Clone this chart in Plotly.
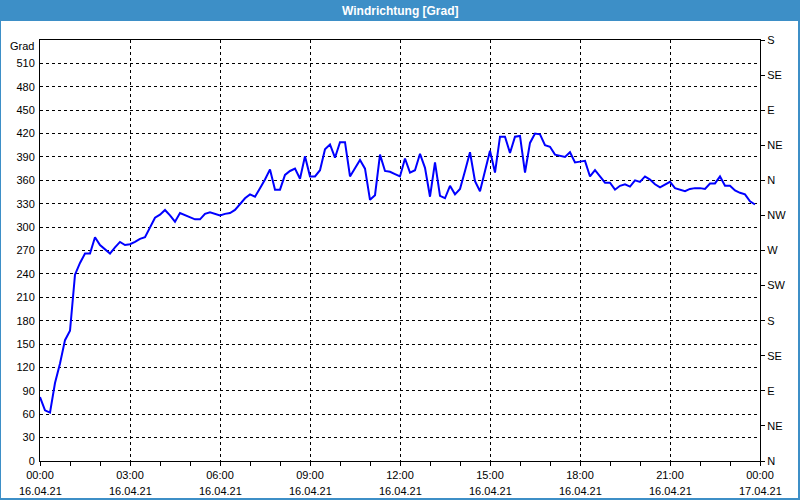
import plotly.graph_objects as go
import pandas as pd

# wind direction in degrees, one reading every 10 minutes, 16.04.21 00:00 .. 23:50
direction = [
    82, 65, 62, 100, 125, 155, 167, 239, 254, 266, 266, 287,
    277, 271, 266, 274, 281, 277, 278, 281, 285, 287, 300, 312,
    316, 322, 315, 307, 318, 315, 312, 310, 310, 317, 319, 317,
    315, 317, 318, 322, 330, 337, 342, 339, 350, 361, 374, 348,
    348, 367, 372, 375, 362, 391, 365, 365, 373, 400, 406, 389,
    409, 409, 365, 376, 386, 375, 335, 341, 393, 372, 371, 368,
    365, 388, 370, 373, 394, 376, 339, 383, 340, 337, 353, 342,
    349, 372, 396, 359, 346, 372, 398, 370, 416, 416, 395, 416,
    417, 370, 408, 420, 419, 405, 403, 393, 391, 390, 396, 383,
    384, 385, 365, 373, 365, 357, 357, 348, 353, 355, 352, 360,
    358, 365, 361, 355, 351, 355, 358, 350, 348, 346, 349, 350,
    350, 349, 356, 356, 365, 353, 353, 347, 344, 342, 333, 329,
]
times = pd.date_range("2021-04-16 00:00", periods=len(direction), freq="10min")

x_tick_times = pd.date_range("2021-04-16 00:00", "2021-04-17 00:00", freq="3h")
x_tick_hours = ["00:00", "03:00", "06:00", "09:00", "12:00", "15:00", "18:00", "21:00", "00:00"]
x_tick_dates = ["16.04.21"] * 8 + ["17.04.21"]

left_ticks = list(range(0, 511, 30))
right_ticks = list(range(0, 541, 45))
right_labels = ["N", "NE", "E", "SE", "S", "SW", "W", "NW", "N", "NE", "E", "SE", "S"]

FONT = "Liberation Sans"
BLUE = "#3d8fc7"

fig = go.Figure()
fig.add_trace(go.Scatter(x=times, y=direction, mode="lines",
                         line=dict(color="#0000ff", width=2), hoverinfo="skip",
                         showlegend=False))
fig.add_trace(go.Scatter(x=[times[0]], y=[0], yaxis="y2", mode="markers",
                         marker=dict(opacity=0), showlegend=False, hoverinfo="skip"))

W, H = 800, 500
L, R, T, B = 40, 40, 40, 39
pw, ph = W - L - R, H - T - B

def px_x(p):
    return (p - L) / pw

def px_y(p):
    return (H - B - p) / ph

fig.update_layout(
    width=W, height=H,
    margin=dict(l=L, r=R, t=T, b=B, pad=0),
    paper_bgcolor="white", plot_bgcolor="white",
    font=dict(family=FONT, size=11, color="#000000"),
    xaxis=dict(
        type="date",
        range=[x_tick_times[0], x_tick_times[-1]],
        tickvals=list(x_tick_times), ticktext=x_tick_hours,
        ticks="outside", ticklen=4, tickcolor="black", tickwidth=1,
        showline=True, linecolor="black", linewidth=1, mirror=True,
        showgrid=True, gridcolor="black", gridwidth=1, griddash="3px,3px",
        zeroline=False,
        minor=dict(dtick=3600000, ticks="outside", ticklen=4, tickcolor="black",
                   showgrid=False),
        tickfont=dict(family=FONT, size=11, color="black"),
    ),
    yaxis=dict(
        range=[0, 540], tickvals=left_ticks,
        ticks="", showline=True, linecolor="black", linewidth=1, mirror=True,
        showgrid=True, gridcolor="black", gridwidth=1, griddash="3px,3px",
        zeroline=False,
        tickfont=dict(family=FONT, size=11, color="black"),
        ticklabelstandoff=2,
    ),
    yaxis2=dict(
        overlaying="y", side="right", range=[0, 540],
        tickvals=right_ticks, ticktext=right_labels,
        ticks="outside", ticklen=4, tickcolor="black",
        showline=False, showgrid=False, zeroline=False,
        tickfont=dict(family=FONT, size=11, color="black"),
        ticklabelstandoff=0,
    ),
)

shapes = [
    # title bar
    dict(type="rect", xref="paper", yref="paper", x0=px_x(0), x1=px_x(W),
         y0=px_y(21), y1=px_y(0), fillcolor=BLUE, line=dict(width=0), layer="above"),
    # outer border
    dict(type="rect", xref="paper", yref="paper", x0=px_x(0), x1=px_x(W - 1),
         y0=px_y(H - 1), y1=px_y(0), fillcolor="rgba(0,0,0,0)",
         line=dict(color=BLUE, width=2), layer="above"),
]
fig.update_layout(shapes=shapes)

annotations = [
    dict(text="<b>Windrichtung [Grad]</b>", xref="paper", yref="paper",
         x=0.5, y=px_y(10.5), xanchor="center", yanchor="middle", showarrow=False,
         font=dict(family=FONT, size=12, color="white")),
    dict(text="Grad", xref="paper", yref="paper", x=px_x(36), y=px_y(46),
         xanchor="right", yanchor="middle", showarrow=False,
         font=dict(family=FONT, size=11, color="black")),
]
for t, d in zip(x_tick_times, x_tick_dates):
    annotations.append(dict(text=d, xref="x", yref="paper", x=t, y=px_y(491),
                            xanchor="center", yanchor="middle", showarrow=False,
                            font=dict(family=FONT, size=11, color="black")))
fig.update_layout(annotations=annotations)

fig.write_html("out.html")
